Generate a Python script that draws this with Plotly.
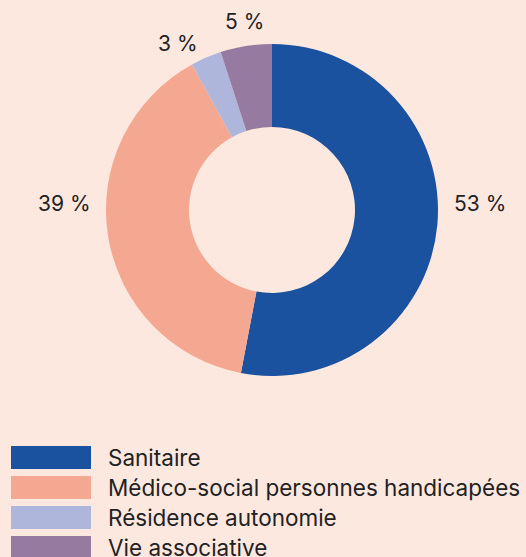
import math
import plotly.graph_objects as go

categories = ["Sanitaire", "Médico-social personnes handicapées", "Résidence autonomie", "Vie associative"]
values = [53, 39, 3, 5]
colors = ["#1a52a0", "#f5a891", "#aeb6dc", "#967aa0"]
label_texts = [f"{v} %" for v in values]

W, H = 526, 557
BG = "#fde8e0"
TXT = "#222222"
FONT = "Inter"
FS = 21
FS_LEG = 22.5

cx, cy, R = 272, 210, 166

fig = go.Figure(go.Pie(
    labels=categories,
    values=values,
    marker=dict(colors=colors, line=dict(width=0)),
    hole=0.5,
    sort=False,
    direction="clockwise",
    rotation=0,
    textinfo="none",
    hoverinfo="label+value",
    showlegend=False,
    domain=dict(x=[(cx - R) / W, (cx + R) / W], y=[1 - (cy + R) / H, 1 - (cy - R) / H]),
))

annotations = []
total = sum(values)
cum = 0
for v, t in zip(values, label_texts):
    mid = (cum + v / 2) / total * 2 * math.pi
    cum += v
    s, c = math.sin(mid), math.cos(mid)
    r = 181 if c <= 0.95 else 176
    px = cx + r * s
    py = cy - r * c
    if abs(s) > 0.9:
        py = cy - 6
    xa = "left" if s > 0.3 else ("right" if s < -0.3 else "center")
    ya = "bottom" if c > 0.95 else "middle"
    annotations.append(dict(
        x=px / W, y=1 - py / H, xref="paper", yref="paper",
        text=t, showarrow=False, xanchor=xa, yanchor=ya,
        font=dict(family=FONT, size=FS, color=TXT),
    ))

shapes = []
y0 = 446
step = 30
for i, (cat, col) in enumerate(zip(categories, colors)):
    top = y0 + i * step
    shapes.append(dict(
        type="rect", xref="paper", yref="paper",
        x0=11 / W, x1=91 / W, y0=1 - (top + 23) / H, y1=1 - top / H,
        fillcolor=col, line=dict(width=0), layer="above",
    ))
    annotations.append(dict(
        x=106 / W, y=1 - (top + 11.5) / H, xref="paper", yref="paper",
        text=cat, showarrow=False, xanchor="left", yanchor="middle",
        font=dict(family=FONT, size=FS_LEG, color=TXT),
    ))

fig.update_layout(
    width=W, height=H,
    margin=dict(l=0, r=0, t=0, b=0),
    paper_bgcolor=BG, plot_bgcolor=BG,
    annotations=annotations, shapes=shapes,
)

fig.write_html("out.html", config={"displayModeBar": False},
               post_script="document.body.style.margin='0';document.body.style.overflow='hidden';")
